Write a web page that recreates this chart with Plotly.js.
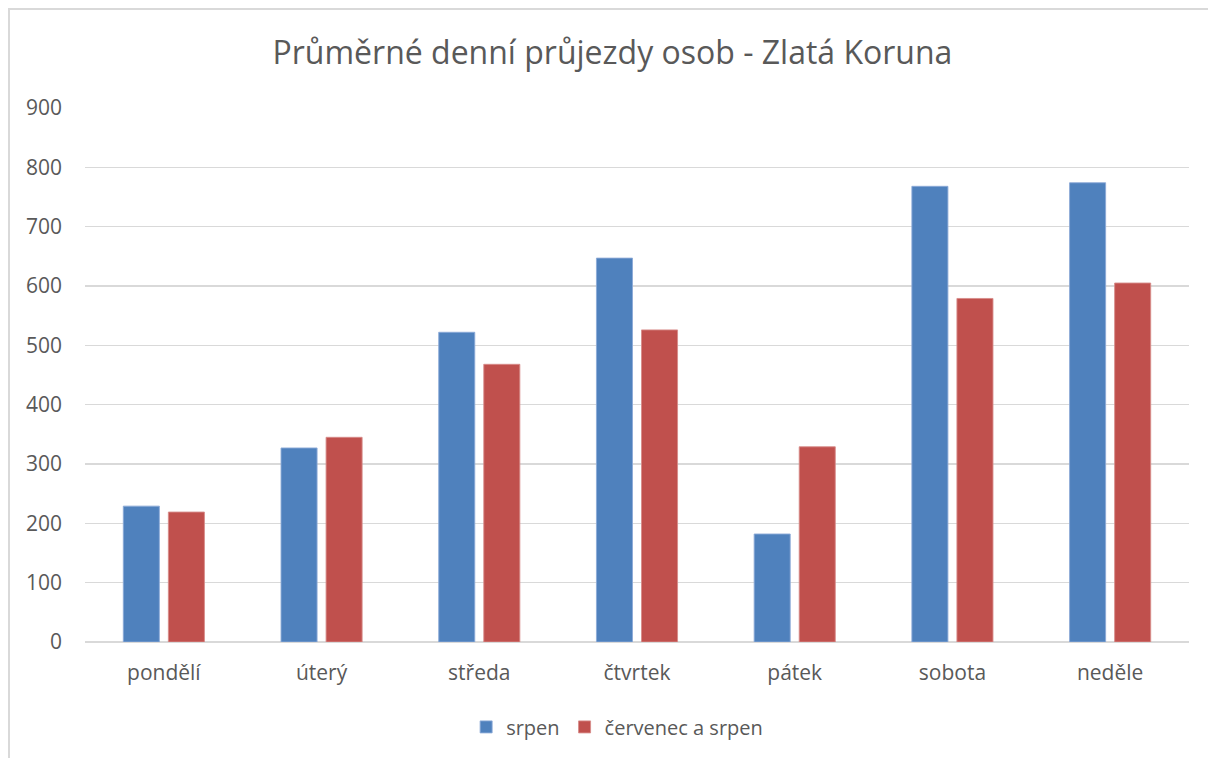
<!DOCTYPE html>
<html>
<head>
<meta charset="utf-8">
<script src="https://cdn.plot.ly/plotly-3.0.1.min.js"></script>
<style>
  html, body { margin: 0; padding: 0; overflow: hidden; background: #fff; }
  #wrap { position: relative; width: 1208px; height: 758px; overflow: hidden; }
  #chart { position: absolute; left: 0; top: 0; width: 1208px; height: 758px; }
  #frame { position: absolute; left: 8px; top: 8px; width: 1400px; height: 1000px;
           border: 2px solid #d9d9d9; pointer-events: none; box-sizing: border-box; }
</style>
</head>
<body>
<div id="wrap">
  <div id="chart"></div>
  <div id="frame"></div>
</div>
<script>
const chartTitle = "Průměrné denní průjezdy osob - Zlatá Koruna";
const categories = ["pondělí", "úterý", "středa", "čtvrtek", "pátek", "sobota", "neděle"];
const seriesNames = ["srpen", "červenec a srpen"];
const srpen = [229, 327, 522, 647, 182, 768, 774];
const cervenecASrpen = [219, 345, 468, 526, 329, 579, 605];
const yTicks = [0, 100, 200, 300, 400, 500, 600, 700, 800, 900];

const font = "Open Sans, Liberation Sans, sans-serif";
const textColor = "#595959";

const traces = [
  {
    type: "bar", name: seriesNames[0], x: categories, y: srpen,
    marker: { color: "#4f81bd", line: { color: "rgba(140,170,215,0.9)", width: 1 } },
    hoverinfo: "x+y+name"
  },
  {
    type: "bar", name: seriesNames[1], x: categories, y: cervenecASrpen,
    marker: { color: "#c0504d", line: { color: "rgba(215,140,138,0.9)", width: 1 } },
    hoverinfo: "x+y+name"
  }
];

const layout = {
  width: 1208, height: 758,
  margin: { l: 85, r: 19, t: 108, b: 116 },
  paper_bgcolor: "rgba(0,0,0,0)",
  plot_bgcolor: "rgba(0,0,0,0)",
  font: { family: font, color: textColor, size: 21 },
  title: {
    text: chartTitle,
    font: { family: font, size: 32, color: textColor },
    x: 0.507, xanchor: "center", y: 0.93, yanchor: "middle"
  },
  barmode: "group",
  bargap: 0.4286,
  bargroupgap: 0.2,
  xaxis: {
    type: "category",
    showgrid: false, zeroline: false, showline: false,
    ticks: "", ticklabelstandoff: 16,
    tickfont: { family: font, size: 21, color: textColor }
  },
  yaxis: {
    range: [0, 900], autorange: false,
    tickvals: yTicks, ticktext: yTicks.map(String),
    showgrid: true, gridcolor: "#d9d9d9", gridwidth: 1.5,
    zeroline: true, zerolinecolor: "#d9d9d9", zerolinewidth: 1.5,
    showline: false, ticks: "", ticklabelstandoff: 22,
    tickfont: { family: font, size: 21, color: textColor }
  },
  showlegend: true,
  legend: {
    orientation: "h", x: 0.482, xanchor: "center", y: -0.159, yanchor: "middle",
    font: { family: font, size: 20, color: textColor },
    traceorder: "normal", itemwidth: 30
  }
};

Plotly.newPlot("chart", traces, layout, { displayModeBar: false, staticPlot: true });
</script>
</body>
</html>
